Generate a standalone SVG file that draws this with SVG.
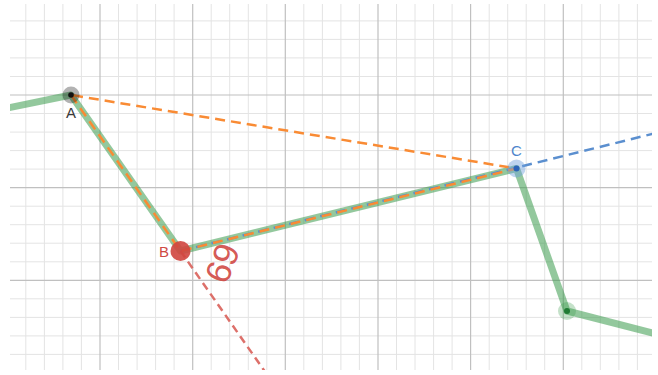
<svg xmlns="http://www.w3.org/2000/svg" width="658" height="375" viewBox="0 0 658 375">
<style>
.minor{stroke:#e4e4e4;stroke-width:1;fill:none}
.major{stroke:#c0c0c0;stroke-width:1.2;fill:none}
.lbl{font-family:"Liberation Sans",Arial,sans-serif;font-size:15px;text-anchor:middle}
.dash{fill:none;stroke-width:2.5}
</style>
<defs>
<clipPath id="area"><rect x="10" y="4" width="642" height="366"/></clipPath>
</defs>
<rect width="658" height="375" fill="#ffffff"/>
<g id="grid" clip-path="url(#area)">
<path class="minor" d="M25.8 4V370M44.4 4V370M62.9 4V370M81.4 4V370M118.5 4V370M137.1 4V370M155.6 4V370M174.1 4V370M211.2 4V370M229.7 4V370M248.3 4V370M266.8 4V370M303.8 4V370M322.4 4V370M340.9 4V370M359.4 4V370M396.5 4V370M415 4V370M433.6 4V370M452.1 4V370M489.2 4V370M507.7 4V370M526.2 4V370M544.7 4V370M581.8 4V370M600.3 4V370M618.9 4V370M637.4 4V370"/>
<path class="minor" d="M10 20.9H652M10 39.4H652M10 57.9H652M10 76.5H652M10 113.5H652M10 132.1H652M10 150.6H652M10 169.1H652M10 206.2H652M10 224.7H652M10 243.2H652M10 261.8H652M10 298.8H652M10 317.4H652M10 335.9H652M10 354.4H652"/>
<path class="major" d="M100 4V370M192.7 4V370M285.3 4V370M378 4V370M470.6 4V370M563.3 4V370M10 95H652M10 187.7H652M10 280.3H652"/>
</g>
<g id="connectors" clip-path="url(#area)">
<polyline id="path-green" points="0,109.5 71,95 180.5,251 516.5,168.5 567,311 660,335" fill="none" stroke="#3b9a4c" stroke-opacity="0.55" stroke-width="7" stroke-linejoin="round"/>
<line id="line-BC" x1="180.5" y1="251" x2="660" y2="132" class="dash" stroke="#5b8fcf" stroke-dasharray="10 6"/>
<line id="ray-AB" x1="180.5" y1="251" x2="268" y2="376" class="dash" stroke="#d9605a" stroke-opacity="0.9" stroke-dasharray="8 5"/>
<polygon id="triangle-ABC" points="71,95 180.5,251 516.5,168.5" class="dash" stroke="#f98b34" stroke-dasharray="10 6" stroke-linejoin="round"/>
</g>
<g id="node-A">
<circle cx="71" cy="95" r="8.5" fill="#000000" fill-opacity="0.3"/>
<circle cx="71" cy="95" r="2.8" fill="#111111"/>
<text class="lbl" x="71" y="117.5" fill="#3a3a3a">A</text>
</g>
<g id="node-B">
<circle cx="180.5" cy="251" r="10" fill="#d0453f" fill-opacity="0.9"/>
<text class="lbl" x="164" y="256.5" fill="#cf4a44">B</text>
<text id="angle-label" x="0" y="0" transform="translate(222,263) rotate(-69.4)" font-family="'Liberation Sans',Arial,sans-serif" font-size="35" fill="#d0453f" fill-opacity="0.9" text-anchor="middle" dominant-baseline="central">69</text>
</g>
<g id="node-C">
<circle cx="516.5" cy="168.5" r="9" fill="#6f9fdc" fill-opacity="0.45"/>
<circle cx="516.5" cy="168.5" r="3" fill="#2c64b8"/>
<text class="lbl" x="516.5" y="155.5" fill="#4f86cc">C</text>
</g>
<g id="node-D">
<circle cx="567" cy="311" r="9" fill="#3b9a4c" fill-opacity="0.3"/>
<circle cx="567" cy="311" r="3" fill="#1f7a33"/>
</g>
</svg>
